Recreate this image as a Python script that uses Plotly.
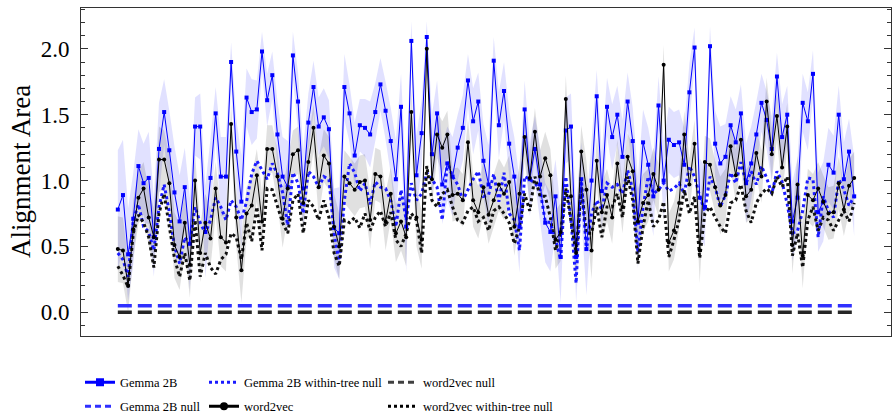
import plotly.graph_objects as go

gemma = [0.78, 0.89, 0.44, 0.71, 1.11, 0.98, 1.02, 0.57, 1.24, 1.52, 1.23, 0.91, 0.69, 0.95, 0.52, 1.41,
         1.41, 0.61, 1.02, 1.51, 1.03, 1.03, 1.90, 1.22, 0.84, 1.63, 1.52, 1.54, 1.98, 1.61, 1.80, 1.35,
         1.03, 0.95, 1.95, 1.60, 0.94, 1.44, 1.71, 1.41, 1.48, 1.39, 0.64, 0.60, 1.71, 1.51, 1.19, 1.42,
         1.40, 1.35, 1.52, 1.73, 1.53, 1.30, 1.01, 1.56, 0.65, 2.06, 1.04, 1.36, 2.09, 1.20, 1.51, 0.97,
         1.13, 1.03, 1.25, 1.40, 1.76, 1.45, 1.60, 1.15,
         0.97, 1.91, 1.42, 1.68, 1.28, 1.03, 0.65, 1.54, 1.01, 1.24, 0.97, 0.68, 0.61, 0.88, 0.42, 1.38,
         1.41, 0.42, 1.01, 0.48, 1.00, 1.64, 0.92, 1.56,
         1.33, 1.50, 1.18, 1.60, 1.30, 0.68, 1.29, 1.12, 0.88, 1.57, 1.00, 1.31, 1.27, 1.29, 1.12, 1.67,
         2.01, 0.87, 0.80, 2.02, 1.28, 1.13, 1.18, 1.42,
         1.29, 1.51, 0.98, 1.13, 1.35, 1.59, 1.46, 1.24, 1.79, 1.33, 1.50, 0.69, 0.87, 1.59, 1.45, 1.81,
         0.76, 0.84, 1.12, 1.06, 1.50, 1.01, 1.22, 0.88]

gemma_std = [0.45, 0.42, 0.35, 0.35, 0.28, 0.30, 0.35, 0.30, 0.35, 0.25, 0.30, 0.35, 0.35, 0.30, 0.35, 0.22,
             0.25, 0.35, 0.30, 0.20, 0.30, 0.30, 0.15, 0.25, 0.35, 0.22, 0.25, 0.22, 0.15, 0.20, 0.18, 0.25,
             0.30, 0.35, 0.18, 0.22, 0.30, 0.22, 0.20, 0.22, 0.22, 0.22, 0.30, 0.35, 0.25, 0.22, 0.25, 0.20,
             0.22, 0.25, 0.22, 0.20, 0.22, 0.25, 0.30, 0.25, 0.35, 0.15, 0.30, 0.25, 0.12, 0.30, 0.25, 0.30,
             0.28, 0.30, 0.25, 0.25, 0.20, 0.25, 0.22, 0.28, 0.30, 0.18, 0.25, 0.22, 0.25, 0.30, 0.35, 0.22,
             0.28, 0.25, 0.28, 0.30, 0.30, 0.28, 0.35, 0.25, 0.25, 0.35, 0.28, 0.35, 0.30, 0.20, 0.30, 0.22,
             0.25, 0.22, 0.28, 0.22, 0.25, 0.35, 0.25, 0.28, 0.30, 0.22, 0.30, 0.25, 0.25, 0.25, 0.28, 0.22,
             0.15, 0.30, 0.30, 0.15, 0.25, 0.28, 0.25, 0.22, 0.25, 0.22, 0.30, 0.28, 0.25, 0.22, 0.22, 0.25,
             0.18, 0.25, 0.22, 0.30, 0.30, 0.22, 0.22, 0.18, 0.30, 0.30, 0.28, 0.28, 0.22, 0.28, 0.25, 0.30]

gemma_tree_null = [0.45, 0.40, 0.27, 0.70, 0.82, 0.65, 0.61, 0.47, 0.80, 0.97, 0.76, 0.50, 0.37, 0.57, 0.52, 0.80,
                   0.68, 0.60, 0.70, 0.87, 0.80, 0.70, 0.85, 0.80, 0.70, 0.84, 1.05, 1.15, 1.08, 1.01, 1.13, 1.05,
                   0.91, 0.66, 1.06, 0.98, 0.75, 1.07, 1.03, 0.95, 1.03, 1.01, 0.60, 0.37, 0.85, 1.13, 1.06, 0.92,
                   0.98, 0.82, 0.99, 0.95, 0.94, 0.85, 0.65, 0.93, 0.70, 0.98, 0.85, 0.90, 1.06, 1.01, 0.95, 0.70,
                   1.14, 1.03, 0.97, 0.85, 0.93, 1.01, 1.07, 0.88,
                   0.89, 1.05, 0.84, 1.06, 0.75, 0.70, 0.47, 1.03, 1.01, 0.98, 0.93, 0.69, 0.68, 0.55, 0.40, 1.03,
                   0.70, 0.22, 1.02, 0.47, 0.75, 0.85, 0.78, 0.98,
                   0.95, 0.97, 0.90, 1.08, 0.93, 0.45, 0.80, 1.03, 0.90, 0.93, 0.98, 0.92, 0.94, 0.98, 0.90, 1.11,
                   1.03, 0.88, 0.77, 1.03, 0.95, 0.80, 0.89, 1.06,
                   0.98, 1.14, 0.98, 1.07, 0.97, 1.11, 1.02, 0.90, 1.07, 0.99, 0.82, 0.60, 0.62, 0.77, 1.02, 1.01,
                   0.57, 0.88, 0.77, 0.72, 1.01, 0.93, 0.81, 0.88]

w2v = [0.48, 0.47, 0.20, 0.63, 0.87, 0.94, 0.72, 0.57, 1.16, 1.16, 0.98, 0.51, 0.42, 0.68, 0.36, 1.00,
       0.45, 0.68, 0.56, 0.94, 0.57, 0.53, 1.43, 0.72, 0.32, 0.75, 0.81, 1.04, 0.69, 1.24, 1.24,
       1.03, 0.71, 0.94, 1.20, 1.23, 0.83, 1.14, 1.40, 0.95, 1.19, 1.13, 0.65, 0.50, 1.03, 0.98, 0.93,
       0.99, 1.00, 0.70, 1.05, 1.03, 0.69, 0.90, 0.60, 0.69, 0.57, 1.52, 0.72, 0.55, 2.00, 1.01, 1.35,
       1.25, 1.35, 0.89, 0.90, 0.85, 1.29, 0.85, 0.76,
       0.95, 0.74, 0.85, 0.97, 0.90, 0.99, 0.65, 0.90, 1.33, 1.02, 1.37, 1.03, 1.17, 1.04, 0.55, 0.61,
       1.62, 0.88, 0.45, 1.22, 0.93, 0.47, 1.15, 0.76,
       0.89, 0.72, 1.13, 0.80, 1.18, 1.07, 0.69, 0.83, 0.89, 1.05, 0.93, 1.88, 0.53, 0.62, 0.83, 1.35,
       0.97, 1.28, 0.47, 1.14, 1.12, 0.95, 0.81, 0.89, 1.26,
       1.04, 1.31, 0.88, 0.93, 1.21, 1.03, 1.60, 1.20, 1.49, 1.10, 1.41, 0.51, 0.97, 0.43, 0.89, 0.85,
       0.94, 0.84, 0.75, 0.76, 0.98, 0.78, 0.96, 1.02]

w2v_std = [0.25, 0.25, 0.20, 0.22, 0.20, 0.20, 0.22, 0.22, 0.25, 0.22, 0.22, 0.25, 0.25, 0.22, 0.25, 0.20,
           0.22, 0.22, 0.22, 0.20, 0.22, 0.22, 0.15, 0.22, 0.25, 0.20, 0.22, 0.20, 0.22, 0.18, 0.18, 0.20,
           0.22, 0.22, 0.18, 0.18, 0.22, 0.18, 0.18, 0.22, 0.20, 0.20, 0.25, 0.25, 0.20, 0.20, 0.20, 0.20,
           0.20, 0.22, 0.20, 0.20, 0.22, 0.20, 0.22, 0.22, 0.22, 0.18, 0.22, 0.22, 0.12, 0.20, 0.18, 0.20,
           0.18, 0.20, 0.20, 0.20, 0.18, 0.20, 0.20, 0.20, 0.22, 0.20, 0.20, 0.20, 0.20, 0.22, 0.22, 0.18,
           0.20, 0.18, 0.20, 0.20, 0.20, 0.22, 0.22, 0.18, 0.20, 0.25, 0.20, 0.22, 0.22, 0.18, 0.22, 0.20,
           0.20, 0.18, 0.20, 0.18, 0.20, 0.25, 0.22, 0.20, 0.20, 0.20, 0.15, 0.22, 0.22, 0.20, 0.18, 0.20,
           0.18, 0.25, 0.20, 0.20, 0.20, 0.22, 0.20, 0.18, 0.20, 0.18, 0.20, 0.22, 0.18, 0.20, 0.18, 0.20,
           0.18, 0.20, 0.18, 0.22, 0.22, 0.25, 0.20, 0.20, 0.20, 0.20, 0.20, 0.20, 0.20, 0.20, 0.20, 0.20]

w2v_tree_null = [0.35, 0.28, 0.19, 0.60, 0.74, 0.68, 0.57, 0.34, 0.75, 0.90, 0.65, 0.41, 0.27, 0.45, 0.24, 0.70,
                 0.27, 0.45, 0.34, 0.29, 0.40, 0.44, 0.60, 0.57, 0.40, 0.68, 0.54, 0.80, 0.47, 0.94, 0.93, 0.80,
                 0.68, 0.60, 0.85, 0.90, 0.60, 0.85, 0.80, 0.70, 0.85, 0.72, 0.45, 0.35, 0.70, 0.68, 0.72,
                 0.64, 0.75, 0.62, 0.72, 0.77, 0.65, 0.76, 0.55, 0.50, 0.60, 0.75, 0.70, 0.45, 1.11, 0.85, 0.80,
                 0.90, 0.93, 0.80, 0.70, 0.68, 0.77, 0.80, 0.69,
                 0.72, 0.62, 0.77, 0.80, 0.75, 0.68, 0.52, 0.65, 0.90, 0.77, 1.03, 0.88, 0.88, 0.72, 0.47, 0.60,
                 0.94, 0.70, 0.45, 0.95, 0.60, 0.60, 0.80, 0.57, 0.80,
                 0.80, 0.90, 0.72, 1.03, 0.85, 0.37, 0.65, 0.85, 0.65, 0.70, 0.84, 0.42, 0.55, 0.70, 0.93, 0.75,
                 0.88, 0.41, 0.75, 0.80, 0.72, 0.65, 0.60, 0.83,
                 0.85, 0.97, 0.77, 0.68, 0.83, 0.90, 0.94, 0.90, 1.03, 0.95, 1.03, 0.43, 0.60, 0.34, 0.70, 0.80,
                 0.62, 0.72, 0.70, 0.62, 0.70, 0.77, 0.69, 0.83]

gemma_null_level = 0.05
w2v_null_level = 0.0

n = len(gemma)
for arr in (gemma_std, gemma_tree_null, w2v, w2v_std, w2v_tree_null):
    assert len(arr) == n, (len(arr), n)

x = list(range(n))
gemma_null = [gemma_null_level] * n
w2v_null = [w2v_null_level] * n

BLUE = "#0000ff"
fig = go.Figure()


def band(mean, std, color):
    up = [m + s for m, s in zip(mean, std)]
    lo = [m - s for m, s in zip(mean, std)]
    fig.add_trace(go.Scatter(x=x + x[::-1], y=up + lo[::-1], fill="toself", fillcolor=color,
                             line=dict(width=0), mode="lines", hoverinfo="skip", showlegend=False))


band(gemma, gemma_std, "rgba(40,40,255,0.14)")
band(w2v, w2v_std, "rgba(0,0,0,0.12)")

fig.add_trace(go.Scatter(x=x, y=gemma_null, mode="lines", line=dict(color="#3030ff", width=3.5, dash="14px,6px"),
                         showlegend=False))
fig.add_trace(go.Scatter(x=x, y=w2v_null, mode="lines", line=dict(color="#262626", width=3.5, dash="14px,6px"),
                         showlegend=False))
fig.add_trace(go.Scatter(x=x, y=gemma_tree_null, mode="lines", line=dict(color="#1a1aff", width=3, dash="dot"),
                         showlegend=False))
fig.add_trace(go.Scatter(x=x, y=w2v_tree_null, mode="lines", line=dict(color="#111111", width=3, dash="dot"),
                         showlegend=False))
fig.add_trace(go.Scatter(x=x, y=gemma, mode="lines+markers", line=dict(color=BLUE, width=1),
                         marker=dict(symbol="square", size=4, color=BLUE), showlegend=False))
fig.add_trace(go.Scatter(x=x, y=w2v, mode="lines+markers", line=dict(color="black", width=1),
                         marker=dict(symbol="circle", size=4, color="black"), showlegend=False))

# legend entries (one legend per slot, laid out in 3 columns x 2 rows)
entries = [
    ("Gemma 2B", dict(mode="lines+markers", line=dict(color=BLUE, width=3), marker=dict(symbol="square", size=8, color=BLUE))),
    ("Gemma 2B null", dict(mode="lines", line=dict(color="#3030ff", width=3, dash="6px,4px"))),
    ("Gemma 2B within-tree null", dict(mode="lines", line=dict(color="#1a1aff", width=3, dash="dot"))),
    ("word2vec", dict(mode="lines+markers", line=dict(color="black", width=3), marker=dict(symbol="circle", size=8, color="black"))),
    ("word2vec null", dict(mode="lines", line=dict(color="#404040", width=3, dash="6px,4px"))),
    ("word2vec within-tree null", dict(mode="lines", line=dict(color="black", width=3, dash="dot"))),
]
FW, FH = 893, 417
L, R, T, B = 81, 2, 8, 81
col_px = [80, 204, 383]
row_px = [382.5, 406.5]
legend_layout = {}
for k, (name, style) in enumerate(entries):
    col, row = k // 2, k % 2
    key = "legend" if k == 0 else f"legend{k + 1}"
    fig.add_trace(go.Scatter(x=[None], y=[None], name=name, showlegend=True, legend=key, **style))
    legend_layout[key] = dict(x=col_px[col] / FW, y=1 - row_px[row] / FH, xref="container", yref="container",
                              xanchor="left", yanchor="middle",
                              bgcolor="rgba(0,0,0,0)", font=dict(family="Liberation Serif", size=12.5, color="black"),
                              itemwidth=30)

fig.update_layout(
    width=FW, height=FH,
    margin=dict(l=L, r=R, t=T, b=B, autoexpand=False),
    plot_bgcolor="white", paper_bgcolor="white",
    font=dict(family="Liberation Serif", color="black"),
    annotations=[dict(text="Alignment Area", textangle=-90, xref="paper", yref="paper",
                      x=(21 - L) / (FW - L - R), y=0.5, xanchor="center", yanchor="middle", showarrow=False,
                      font=dict(family="Liberation Serif", size=27, color="black"))],
    **legend_layout,
)
fig.update_xaxes(range=[-7.15, 150.15], showticklabels=False, ticks="", showgrid=False, zeroline=False,
                 showline=True, mirror=True, linecolor="#333333", linewidth=1)
fig.update_yaxes(range=[-0.18, 2.31], dtick=0.5, tick0=0, tickformat=".1f", ticks="inside", ticklen=7,
                 tickwidth=1, tickcolor="#333333", showgrid=False, zeroline=False,
                 showline=True, mirror="ticks", linecolor="#333333", linewidth=1,
                 minor=dict(dtick=0.1, ticks="inside", ticklen=4, tickcolor="#333333", showgrid=False),
                 tickfont=dict(family="Liberation Serif", size=23), ticklabelstandoff=6,
                 automargin=False)

fig.write_html("out.html")
